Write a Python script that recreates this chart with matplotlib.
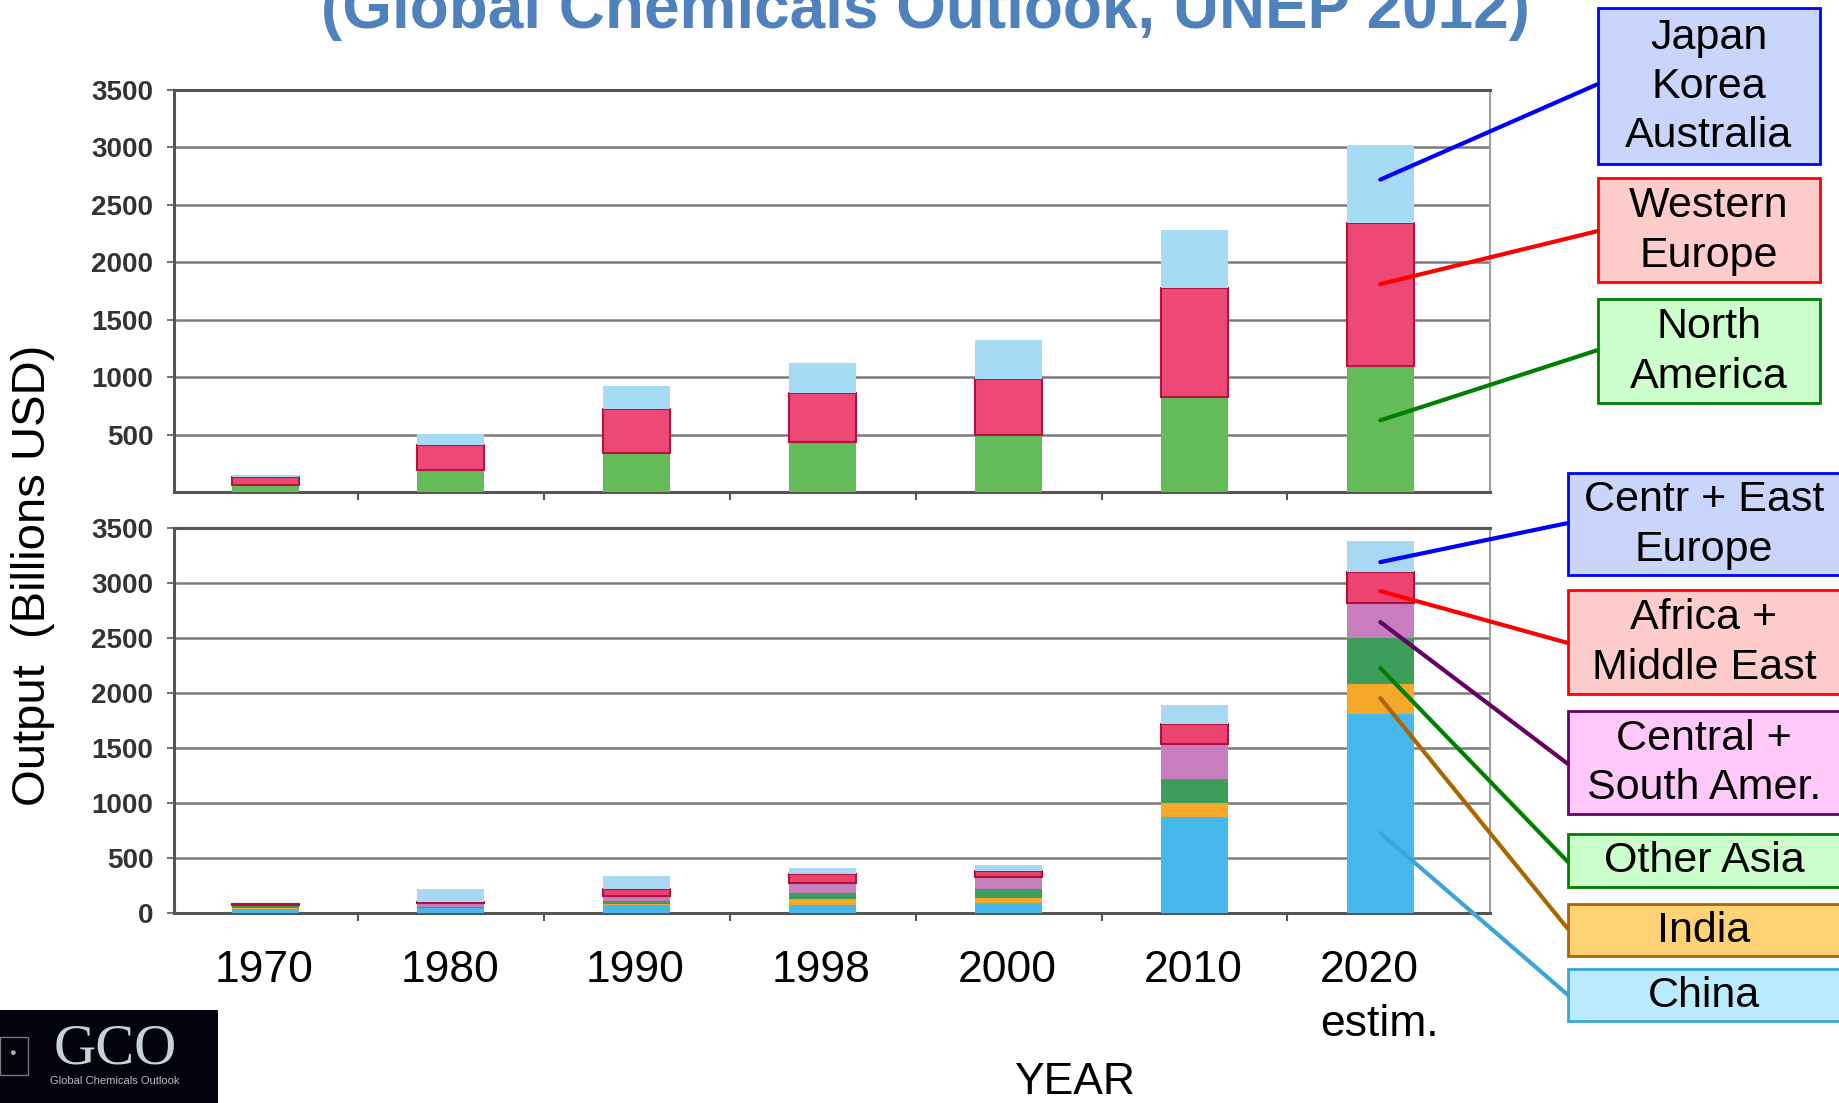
import matplotlib.pyplot as plt
from matplotlib.patches import Rectangle, ConnectionPatch

plt.rcParams['font.family'] = ['Liberation Sans', 'DejaVu Sans']

W, H = 1840, 1103

years = ['1970', '1980', '1990', '1998', '2000', '2010', '2020\nestim.']

# top panel (billions USD)
north_america = [60, 190, 340, 435, 495, 830, 1100]
western_europe = [70, 215, 385, 430, 485, 950, 1240]
japan_korea_aus = [15, 100, 195, 260, 340, 500, 680]

# bottom panel (billions USD)
china = [40, 45, 70, 73, 88, 875, 1810]
india = [5, 5, 12, 54, 50, 125, 270]
other_asia = [28, 5, 27, 55, 82, 220, 420]
central_south_amer = [3, 40, 46, 91, 110, 320, 320]
africa_middle_east = [3, 5, 63, 82, 55, 180, 280]
centr_east_europe = [3, 120, 118, 55, 55, 170, 280]

top_series = [north_america, western_europe, japan_korea_aus]
top_colors = ['#63BB5A', '#EE4876', '#A6DBF5']
top_edges = ['none', '#B5123F', 'none']

bot_series = [china, india, other_asia, central_south_amer, africa_middle_east, centr_east_europe]
bot_colors = ['#46B8EC', '#F5A82A', '#3C9E5A', '#C77DBE', '#EC4370', '#A8D8F3']
bot_edges = ['none', 'none', 'none', 'none', '#B0123C', 'none']

top_labels = ['Japan\nKorea\nAustralia', 'Western\nEurope', 'North\nAmerica']
top_box_face = ['#C9D5FB', '#FFCCCC', '#CCFFCC']
top_box_edge = ['#0000FF', '#FF0000', '#008000']
top_anchor = [2720, 1810, 624]

bot_labels = ['Centr + East\nEurope', 'Africa +\nMiddle East', 'Central +\nSouth Amer.',
              'Other Asia', 'India', 'China']
bot_box_face = ['#C9D5FB', '#FFCCCC', '#FFC8F8', '#CCFFCC', '#FFD275', '#BBEBFF']
bot_box_edge = ['#0000FF', '#FF0000', '#660066', '#008000', '#AA6600', '#3AA6D8']
bot_anchor = [3190, 2927, 2645, 2227, 1954, 727]


def fx(px):
    return px / W


def fy(py):
    return 1 - py / H


fig = plt.figure(figsize=(18.4, 11.03), dpi=100)

ax_top = fig.add_axes([fx(174), fy(492), fx(1490) - fx(174), fy(90) - fy(492)])
ax_bot = fig.add_axes([fx(174), fy(913), fx(1490) - fx(174), fy(528) - fy(913)])

x = list(range(len(years)))

for ax, series, colors, edges in [(ax_top, top_series, top_colors, top_edges),
                                  (ax_bot, bot_series, bot_colors, bot_edges)]:
    bottom = [0] * len(years)
    for vals, c, ec in zip(series, colors, edges):
        ax.bar(x, vals, width=0.36, bottom=bottom, color=c, edgecolor=ec,
               linewidth=1.5, zorder=3)
        bottom = [b + v for b, v in zip(bottom, vals)]

    ax.set_xlim(-0.49, 6.59)
    ax.set_ylim(0, 3500)
    ax.grid(axis='y', color='#7C7C7C', linewidth=1.8, zorder=0)
    ax.set_axisbelow(True)
    for side in ['left', 'bottom', 'top']:
        ax.spines[side].set_color('#555555')
        ax.spines[side].set_linewidth(2.2)
    ax.spines['right'].set_color('#A0A0A0')
    ax.spines['right'].set_linewidth(1.5)
    ax.set_xticks([i + 0.5 for i in range(6)])
    ax.set_xticklabels([])
    ax.tick_params(axis='x', length=6, width=1.5, color='#555555')
    ax.tick_params(axis='y', length=5, width=1.5, color='#777777', pad=10)

ax_top.set_yticks(range(500, 3501, 500))
ax_bot.set_yticks(range(0, 3501, 500))
for ax in [ax_top, ax_bot]:
    ax.set_yticklabels([str(v) for v in ax.get_yticks().astype(int)],
                       family=['Liberation Sans Narrow', 'Liberation Sans'],
                       fontsize=20, fontweight='bold', color='#333333')

# year labels under bottom panel
for xi, yr in zip(x, years):
    ax_bot.annotate(yr, xy=(xi, 0), xycoords='data', xytext=(-1, -27),
                    textcoords='offset points', ha='center', va='top',
                    multialignment='left', fontsize=32, linespacing=1.4,
                    annotation_clip=False)

fig.text(fx(1074), fy(1082), 'YEAR', ha='center', va='center', fontsize=32)
fig.text(fx(33), fy(575), 'Output  (Billions USD)', rotation=90,
         ha='center', va='center', fontsize=34)
fig.text(fx(925), fy(28), '(Global Chemicals Outlook, UNEP 2012)', ha='center',
         va='baseline', fontsize=46, fontweight='bold', color='#4F81BD')

# label boxes, top group
top_boxes = [(8, 164), (178, 282), (299, 403)]
top_hits = [84, 231, 350]
for (y0, y1), lab, fc, ec, anc, hit in zip(top_boxes, top_labels, top_box_face,
                                           top_box_edge, top_anchor, top_hits):
    fig.patches.append(Rectangle((fx(1598), fy(y1)), fx(1820) - fx(1598), fy(y0) - fy(y1),
                                 transform=fig.transFigure, facecolor=fc, edgecolor=ec,
                                 linewidth=2))
    fig.text(fx(1709), fy((y0 + y1) / 2 + 1), lab, ha='center', va='center',
             fontsize=31, linespacing=1.3)
    con = ConnectionPatch(xyA=(6, anc), coordsA=ax_top.transData,
                          xyB=(fx(1598), fy(hit)), coordsB=fig.transFigure,
                          color=ec, linewidth=3, zorder=5)
    fig.add_artist(con)

# label boxes, bottom group
bot_boxes = [(473, 575), (590, 694), (711, 814), (834, 887), (904, 956), (969, 1021)]
bot_hits = [523, 643, 764, 862, 929, 995]
for (y0, y1), lab, fc, ec, anc, hit in zip(bot_boxes, bot_labels, bot_box_face,
                                           bot_box_edge, bot_anchor, bot_hits):
    fig.patches.append(Rectangle((fx(1568), fy(y1)), fx(1845) - fx(1568), fy(y0) - fy(y1),
                                 transform=fig.transFigure, facecolor=fc, edgecolor=ec,
                                 linewidth=2))
    fig.text(fx(1704), fy((y0 + y1) / 2 + 1), lab, ha='center', va='center',
             fontsize=31, linespacing=1.3)
    con = ConnectionPatch(xyA=(6, anc), coordsA=ax_bot.transData,
                          xyB=(fx(1568), fy(hit)), coordsB=fig.transFigure,
                          color=ec, linewidth=3, zorder=5)
    fig.add_artist(con)

# GCO logo block, bottom left
fig.patches.append(Rectangle((0, 0), fx(218), fy(1010), transform=fig.transFigure,
                             facecolor='#03030F', edgecolor='none'))
fig.patches.append(Rectangle((fx(0), fy(1075)), fx(28), fy(1037) - fy(1075),
                             transform=fig.transFigure, facecolor='none',
                             edgecolor='#777788', linewidth=1))
fig.text(fx(12), fy(1053), '●', ha='center', va='center', fontsize=8, color='#AAB0C0')
fig.text(fx(115), fy(1050), 'GCO', ha='center', va='center', fontsize=42,
         family=['Liberation Serif', 'DejaVu Serif'], color='#C8D0DA')
fig.text(fx(115), fy(1081), 'Global Chemicals Outlook', ha='center', va='center',
         fontsize=8, color='#BBBBC4')

fig.savefig('out.png', dpi=100)
